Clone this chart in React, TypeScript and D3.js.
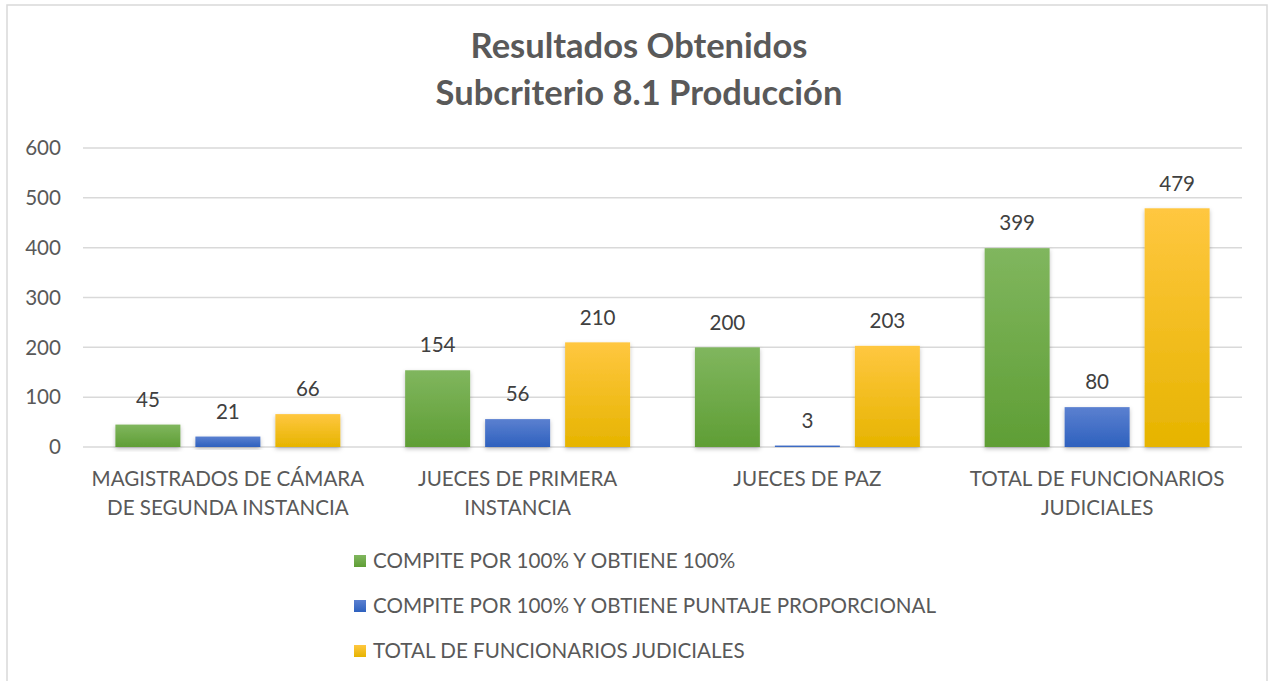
import React from "react";
import * as d3 from "d3";

const categories = [
  ["MAGISTRADOS DE CÁMARA", "DE SEGUNDA INSTANCIA"],
  ["JUECES DE PRIMERA", "INSTANCIA"],
  ["JUECES DE PAZ"],
  ["TOTAL DE FUNCIONARIOS", "JUDICIALES"],
];
const seriesNames = [
  "COMPITE POR 100% Y OBTIENE 100%",
  "COMPITE POR 100% Y OBTIENE PUNTAJE PROPORCIONAL",
  "TOTAL DE FUNCIONARIOS JUDICIALES",
];
const compite100 = [45, 154, 200, 399];
const proporcional = [21, 56, 3, 80];
const totalFunc = [66, 210, 203, 479];
const yTicks = [0, 100, 200, 300, 400, 500, 600];

const series = [compite100, proporcional, totalFunc];
const gradients = [
  ["#80b65e", "#5f9e35"],
  ["#5b80d0", "#2e61be"],
  ["#ffc740", "#e6b400"],
];

const W = 1272;
const H = 681;
const margin = { left: 83, right: 30, top: 148, bottom: 234 };
const font = "Lato, 'Open Sans', sans-serif";
const textColor = "#595959";
const fs = 20.6;

export default function App() {
  const innerW = W - margin.left - margin.right;
  const innerH = H - margin.top - margin.bottom;
  const x0 = d3.scaleBand().domain(d3.range(categories.length).map(String)).range([0, innerW]).paddingInner(0).paddingOuter(0);
  const x1 = d3.scaleBand().domain(d3.range(series.length).map(String)).range([0, x0.bandwidth()]).paddingInner(0.1875).paddingOuter(0.405);
  const y = d3.scaleLinear().domain([0, 600]).range([innerH, 0]);

  return (
    <svg width={W} height={H} style={{ position: "absolute", left: 0, top: 0 }} fontFamily={font}>
      <defs>
        {gradients.map((g, i) => (
          <linearGradient key={i} id={`grad${i}`} x1="0" y1="0" x2="0" y2="1">
            <stop offset="0%" stopColor={g[0]} />
            <stop offset="100%" stopColor={g[1]} />
          </linearGradient>
        ))}
        <filter id="shadow" x="-20%" y="-20%" width="140%" height="140%">
          <feDropShadow dx="0" dy="2" stdDeviation="2" floodColor="#000" floodOpacity="0.25" />
        </filter>
      </defs>
      <rect x={7} y={5} width={1260} height={690} fill="#fff" stroke="#d9d9d9" strokeWidth={1.5} />
      <text x={639} y={58} textAnchor="middle" fontSize={34.5} fontWeight="bold" fill={textColor}>
        Resultados Obtenidos
      </text>
      <text x={639} y={105} textAnchor="middle" fontSize={34.5} fontWeight="bold" fill={textColor}>
        Subcriterio 8.1 Producción
      </text>
      <g transform={`translate(${margin.left},${margin.top})`}>
        {yTicks.map((t) => (
          <g key={t}>
            <line x1={0} x2={innerW} y1={y(t)} y2={y(t)} stroke="#d9d9d9" strokeWidth={1.5} />
            <text x={-22} y={y(t)} dy="0.35em" textAnchor="end" fontSize={fs} fill={textColor}>
              {t}
            </text>
          </g>
        ))}
        {categories.map((cat, ci) => (
          <g key={ci} transform={`translate(${x0(String(ci))},0)`}>
            {series.map((s, si) => {
              const bx = x1(String(si))!;
              const v = s[ci];
              return (
                <g key={si}>
                  <rect
                    x={bx}
                    y={y(v)}
                    width={x1.bandwidth()}
                    height={innerH - y(v)}
                    fill={`url(#grad${si})`}
                    filter="url(#shadow)"
                  />
                  <text x={bx + x1.bandwidth() / 2} y={y(v) - 25} dy="0.35em" textAnchor="middle" fontSize={fs} fill="#404040">
                    {v}
                  </text>
                </g>
              );
            })}
            {cat.map((line, li) => (
              <text key={li} x={x0.bandwidth() / 2} y={innerH + 32 + li * 29} dy="0.35em" textAnchor="middle" fontSize={fs} fill={textColor}>
                {line}
              </text>
            ))}
          </g>
        ))}
      </g>
      {seriesNames.map((name, i) => (
        <g key={i} transform={`translate(354,${561 + i * 45})`}>
          <rect x={0} y={-6} width={12} height={12} fill={`url(#grad${i})`} />
          <text x={19} y={0} dy="0.35em" fontSize={fs} fill={textColor}>
            {name}
          </text>
        </g>
      ))}
    </svg>
  );
}
